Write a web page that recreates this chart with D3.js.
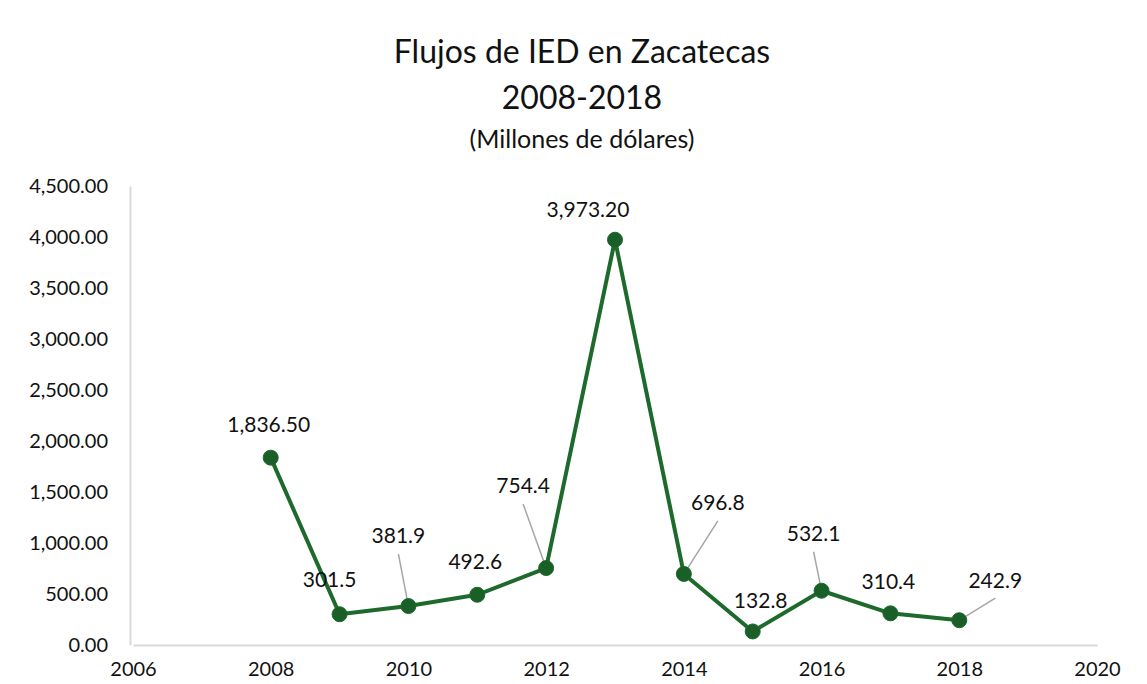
<!DOCTYPE html>
<html>
<head>
<meta charset="utf-8">
<script src="https://cdn.jsdelivr.net/npm/d3@7"></script>
<style>
  body { margin: 0; background: #fff; }
  svg { display: block; font-family: Lato, "Open Sans", sans-serif; }
</style>
</head>
<body>
<svg id="chart" width="1147" height="684"></svg>
<script>
// Flujos de IED en Zacatecas, 2008-2018 (millones de dólares)
const years = [2008, 2009, 2010, 2011, 2012, 2013, 2014, 2015, 2016, 2017, 2018];
const values = [1836.5, 301.5, 381.9, 492.6, 754.4, 3973.2, 696.8, 132.8, 532.1, 310.4, 242.9];
const valueLabels = ["1,836.50", "301.5", "381.9", "492.6", "754.4", "3,973.20", "696.8", "132.8", "532.1", "310.4", "242.9"];
const yTicks = [0, 500, 1000, 1500, 2000, 2500, 3000, 3500, 4000, 4500];
const xTicks = [2006, 2008, 2010, 2012, 2014, 2016, 2018, 2020];

// label placement relative to each point (and whether a leader line is drawn)
const labelOffsets = [
  { dx: -2, dy: -33, leader: false },
  { dx: -10, dy: -35, leader: false },
  { dx: -10, dy: -70, leader: true },
  { dx: -2, dy: -33, leader: false },
  { dx: -23, dy: -82, leader: true },
  { dx: -27, dy: -30, leader: false },
  { dx: 34, dy: -71, leader: true },
  { dx: 8, dy: -31, leader: false },
  { dx: -8, dy: -57, leader: true },
  { dx: -2, dy: -32, leader: false },
  { dx: 36, dy: -40, leader: true }
];

const svg = d3.select("#chart");

const x = d3.scaleLinear().domain([2006, 2020]).range([133, 1097]);
const y = d3.scaleLinear().domain([0, 4500]).range([645, 186]);

// titles
const titles = [
  { text: "Flujos de IED en Zacatecas", y: 63, size: 32 },
  { text: "2008-2018", y: 109, size: 32 },
  { text: "(Millones de dólares)", y: 148, size: 25 }
];
svg.selectAll(".title")
  .data(titles)
  .join("text")
  .attr("class", "title")
  .attr("x", 582)
  .attr("y", d => d.y)
  .attr("text-anchor", "middle")
  .attr("fill", "#111")
  .attr("font-size", d => d.size)
  .text(d => d.text);

// axes
svg.append("g")
  .attr("transform", `translate(130,0)`)
  .call(d3.axisLeft(y).tickValues(yTicks).tickFormat(d3.format(",.2f")).tickSize(0).tickPadding(22))
  .call(a => {
    a.select(".domain").attr("stroke", "#d9d9d9").attr("stroke-width", 2);
    a.selectAll("text").attr("fill", "#111").attr("font-size", 20).attr("font-family", "Lato, 'Open Sans', sans-serif");
  });

svg.append("g")
  .attr("transform", `translate(0,645)`)
  .call(d3.axisBottom(x).tickValues(xTicks).tickFormat(d3.format("d")).tickSize(0).tickPadding(17))
  .call(a => {
    a.select(".domain").attr("stroke", "#d9d9d9").attr("stroke-width", 2);
    a.selectAll("text").attr("fill", "#111").attr("font-size", 20).attr("font-family", "Lato, 'Open Sans', sans-serif");
  });

const data = years.map((yr, i) => ({ year: yr, value: values[i], label: valueLabels[i], off: labelOffsets[i] }));

// leader lines
svg.append("g")
  .selectAll("line")
  .data(data.filter(d => d.off.leader))
  .join("line")
  .each(function(d) {
    const px = x(d.year), py = y(d.value);
    const sx = px + d.off.dx, sy = py + d.off.dy + 18;
    const len = Math.hypot(px - sx, py - sy);
    const ex = px - (px - sx) / len * 7, ey = py - (py - sy) / len * 7;
    d3.select(this)
      .attr("x1", sx).attr("y1", sy)
      .attr("x2", ex).attr("y2", ey);
  })
  .attr("stroke", "#a6a6a6")
  .attr("stroke-width", 1.5);

// line
svg.append("path")
  .datum(data)
  .attr("d", d3.line().x(d => x(d.year)).y(d => y(d.value)))
  .attr("fill", "none")
  .attr("stroke", "#1d6a2c")
  .attr("stroke-width", 4)
  .attr("stroke-linejoin", "round");

// markers
svg.append("g")
  .selectAll("circle")
  .data(data)
  .join("circle")
  .attr("cx", d => x(d.year))
  .attr("cy", d => y(d.value))
  .attr("r", 7.5)
  .attr("fill", "#1a5e28")
  .attr("stroke", "#1d6a2c")
  .attr("stroke-width", 1);

// data labels
svg.append("g")
  .selectAll("text")
  .data(data)
  .join("text")
  .attr("x", d => x(d.year) + d.off.dx)
  .attr("y", d => y(d.value) + d.off.dy)
  .attr("dy", "0.35em")
  .attr("text-anchor", "middle")
  .attr("fill", "#111")
  .attr("font-size", 21)
  .text(d => d.label);
</script>
</body>
</html>
